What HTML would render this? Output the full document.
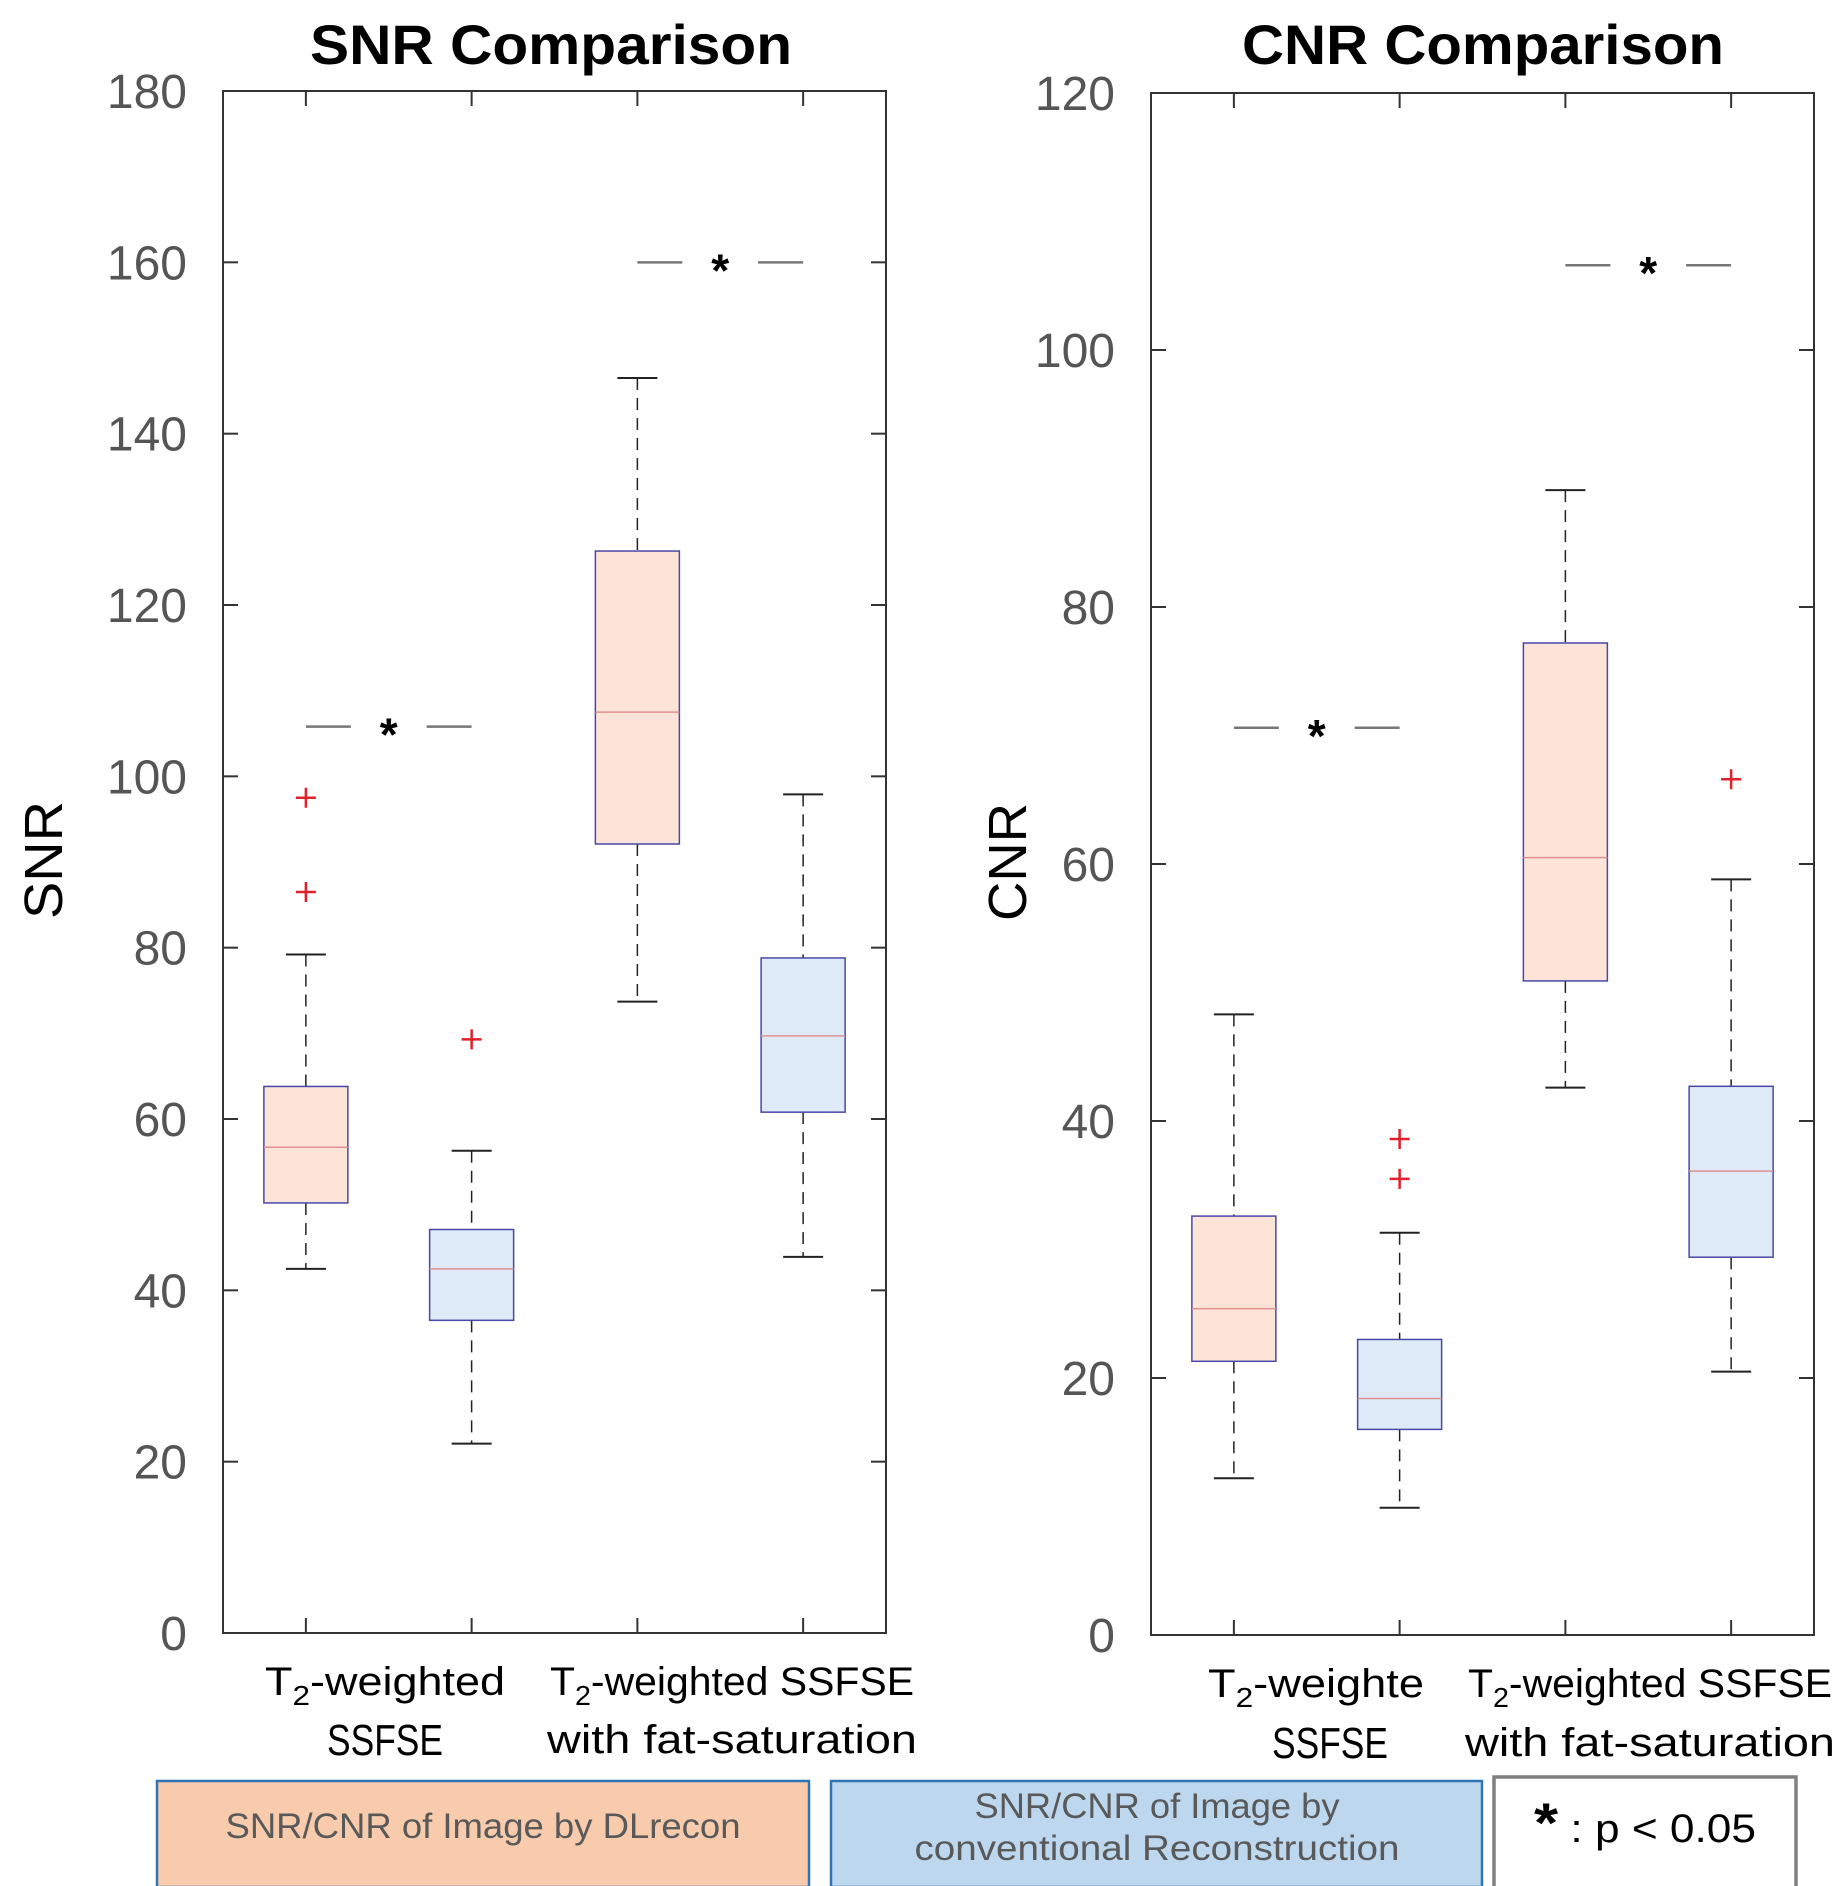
<!DOCTYPE html>
<html><head><meta charset="utf-8"><style>
html,body{margin:0;padding:0;background:#fff;}
svg{display:block;font-family:"Liberation Sans",sans-serif;}
</style></head><body>
<svg id="chart" width="1842" height="1886" viewBox="0 0 1842 1886" xmlns="http://www.w3.org/2000/svg">
<g id="plots"></g>
<g>
  <rect x="157" y="1781" width="652" height="106" fill="#f8cbad" stroke="#2e75b6" stroke-width="2.5"/>
  <text x="483" y="1838" text-anchor="middle" font-size="35" fill="#595959" textLength="515" lengthAdjust="spacingAndGlyphs">SNR/CNR of Image by DLrecon</text>
  <rect x="831" y="1781" width="651" height="106" fill="#bdd7ee" stroke="#2e75b6" stroke-width="2.5"/>
  <text x="1157" y="1818" text-anchor="middle" font-size="35" fill="#595959" textLength="365" lengthAdjust="spacingAndGlyphs">SNR/CNR of Image by</text>
  <text x="1157" y="1860" text-anchor="middle" font-size="35" fill="#595959" textLength="485" lengthAdjust="spacingAndGlyphs">conventional Reconstruction</text>
  <rect x="1494" y="1777" width="302" height="112" fill="#fff" stroke="#808080" stroke-width="3.5"/>
  <text x="1645" y="1842" text-anchor="middle" font-size="40" fill="#000" textLength="222" lengthAdjust="spacingAndGlyphs"><tspan font-weight="bold" font-size="56">*</tspan> : p &lt; 0.05</text>
</g>
</svg>
<script>
// SNR data
const snrCategories = ['DL T2', 'Conv T2', 'DL T2 FS', 'Conv T2 FS'];
const snrLow = [42.5, 22.1, 73.7, 43.9];
const snrQ1 = [50.2, 36.5, 92.1, 60.8];
const snrMed = [56.7, 42.5, 107.5, 69.7];
const snrQ3 = [63.8, 47.1, 126.3, 78.8];
const snrHigh = [79.2, 56.3, 146.5, 97.9];
const snrOutliers = [[86.5, 97.5], [69.3], [], []];
const snrSig = [105.8, 160];
const snrTicks = [0, 20, 40, 60, 80, 100, 120, 140, 160, 180];
// CNR data
const cnrCategories = ['DL T2', 'Conv T2', 'DL T2 FS', 'Conv T2 FS'];
const cnrLow = [12.2, 9.9, 42.6, 20.5];
const cnrQ1 = [21.3, 16.0, 50.9, 29.4];
const cnrMed = [25.4, 18.4, 60.5, 36.1];
const cnrQ3 = [32.6, 23.0, 77.2, 42.7];
const cnrHigh = [48.3, 31.3, 89.1, 58.8];
const cnrOutliers = [[], [35.5, 38.6], [], [66.6]];
const cnrSig = [70.6, 106.6];
const cnrTicks = [0, 20, 40, 60, 80, 100, 120];

const NS = 'http://www.w3.org/2000/svg';
const root = document.getElementById('plots');
function mk(tag, attrs, parent) {
  const e = document.createElementNS(NS, tag);
  for (const k in attrs) e.setAttribute(k, attrs[k]);
  (parent || root).appendChild(e);
  return e;
}
function drawPlot(cfg) {
  const g = mk('g', {});
  
  
  const {x0, x1, y0, y1, max} = cfg;
  const y = v => y0 - (v / max) * (y0 - y1);
  const xs = i => x0 + (x1 - x0) * (0.125 + 0.25 * i);
  const box = mk('rect', {x: x0, y: y1, width: x1 - x0, height: y0 - y1, fill: 'none', stroke: '#333', 'stroke-width': 2}, g);
  
  
  cfg.ticks.forEach(t => {
    const yy = y(t);
    mk('line', {x1: x0, x2: x0 + 15, y1: yy, y2: yy, stroke: '#333', 'stroke-width': 2}, g);
    mk('line', {x1: x1, x2: x1 - 15, y1: yy, y2: yy, stroke: '#333', 'stroke-width': 2}, g);
    const tl = mk('text', {x: x0 - 36, y: yy + 17, 'text-anchor': 'end', 'font-size': 48, fill: '#555'}, g);
    tl.textContent = t;
    
    
  });
  cfg.cats.forEach((c, i) => {
    const xx = xs(i);
    mk('line', {x1: xx, x2: xx, y1: y0, y2: y0 - 15, stroke: '#333', 'stroke-width': 2}, g);
    mk('line', {x1: xx, x2: xx, y1: y1, y2: y1 + 15, stroke: '#333', 'stroke-width': 2}, g);
  });
  const bw = 84, cw = 40;
  cfg.cats.forEach((c, i) => {
    const xx = xs(i);
    const bg = mk('g', {}, g);
    
    
    const dl = i % 2 === 0;
    mk('line', {x1: xx, x2: xx, y1: y(cfg.high[i]), y2: y(cfg.q3[i]), stroke: '#222', 'stroke-width': 1.5, 'stroke-dasharray': '12,8'}, bg);
    mk('line', {x1: xx, x2: xx, y1: y(cfg.q1[i]), y2: y(cfg.low[i]), stroke: '#222', 'stroke-width': 1.5, 'stroke-dasharray': '12,8'}, bg);
    mk('line', {x1: xx - cw / 2, x2: xx + cw / 2, y1: y(cfg.high[i]), y2: y(cfg.high[i]), stroke: '#222', 'stroke-width': 2}, bg);
    mk('line', {x1: xx - cw / 2, x2: xx + cw / 2, y1: y(cfg.low[i]), y2: y(cfg.low[i]), stroke: '#222', 'stroke-width': 2}, bg);
    mk('rect', {x: xx - bw / 2, y: y(cfg.q3[i]), width: bw, height: y(cfg.q1[i]) - y(cfg.q3[i]), fill: dl ? '#fce5d8' : '#deeaf7', stroke: '#4848a8', 'stroke-width': 1.5}, bg);
    mk('line', {x1: xx - bw / 2, x2: xx + bw / 2, y1: y(cfg.med[i]), y2: y(cfg.med[i]), stroke: '#e09090', 'stroke-width': 1.5}, bg);
    cfg.out[i].forEach(o => {
      const p = mk('path', {d: `M${xx - 10},${y(o)}h20M${xx},${y(o) - 10}v20`, stroke: '#e0202a', 'stroke-width': 2.5, fill: 'none'}, bg);
      
      
    });
  });
  cfg.sig.forEach((s, k) => {
    const a = xs(2 * k), b = xs(2 * k + 1), m = (a + b) / 2, yy = y(s);
    const sg = mk('g', {}, g);
    
    
    mk('line', {x1: a, x2: a + 45, y1: yy, y2: yy, stroke: '#777', 'stroke-width': 2.5}, sg);
    mk('line', {x1: b - 45, x2: b, y1: yy, y2: yy, stroke: '#777', 'stroke-width': 2.5}, sg);
    const st = mk('text', {x: m, y: yy + 24, 'text-anchor': 'middle', 'font-size': 46, 'font-weight': 'bold', fill: '#000'}, sg);
    st.textContent = '*';
  });
  const t = mk('text', {x: cfg.titleX, y: 64, 'text-anchor': 'middle', 'font-size': 56, 'font-weight': 'bold', fill: '#000', textLength: 482, lengthAdjust: 'spacingAndGlyphs'}, g);
  t.textContent = cfg.title;
  
  
  const yl = mk('text', {x: 0, y: 0, transform: `translate(${cfg.ylX},${(y0 + y1) / 2 - 2}) rotate(-90)`, 'text-anchor': 'middle', 'font-size': 54, fill: '#000', textLength: 118, lengthAdjust: 'spacingAndGlyphs'}, g);
  yl.textContent = cfg.ylabel;
  
  
  cfg.xl.forEach(l => {
    const tx = mk('text', {x: l.x, y: l.y, 'text-anchor': 'middle', 'font-size': l.fs || 40, fill: '#000', textLength: l.w, lengthAdjust: 'spacingAndGlyphs'}, g);
    tx.innerHTML = l.html;
    
    
  });
}
const sub = '<tspan font-size="28" dy="10">2</tspan><tspan dy="-10">';
drawPlot({name: 'snr-plot', x0: 223, x1: 886, y0: 1633, y1: 91, max: 180, ticks: snrTicks, cats: snrCategories,
  low: snrLow, q1: snrQ1, med: snrMed, q3: snrQ3, high: snrHigh, out: snrOutliers, sig: snrSig,
  title: 'SNR Comparison', titleX: 551, ylabel: 'SNR', ylX: 62,
  xl: [{x: 385, y: 1695, w: 240, html: 'T' + sub + '-weighted</tspan>'}, {x: 385, y: 1755, w: 116, fs: 44, html: 'SSFSE'},
       {x: 732, y: 1695, w: 364, html: 'T' + sub + '-weighted SSFSE</tspan>'}, {x: 732, y: 1753, w: 370, html: 'with fat-saturation'}]});
drawPlot({name: 'cnr-plot', x0: 1151, x1: 1814, y0: 1635, y1: 93, max: 120, ticks: cnrTicks, cats: cnrCategories,
  low: cnrLow, q1: cnrQ1, med: cnrMed, q3: cnrQ3, high: cnrHigh, out: cnrOutliers, sig: cnrSig,
  title: 'CNR Comparison', titleX: 1483, ylabel: 'CNR', ylX: 1026,
  xl: [{x: 1316, y: 1697, w: 216, html: 'T' + sub + '-weighte</tspan>'}, {x: 1330, y: 1758, w: 116, fs: 44, html: 'SSFSE'},
       {x: 1650, y: 1697, w: 364, html: 'T' + sub + '-weighted SSFSE</tspan>'}, {x: 1650, y: 1756, w: 370, html: 'with fat-saturation'}]});
</script>
</body></html>
